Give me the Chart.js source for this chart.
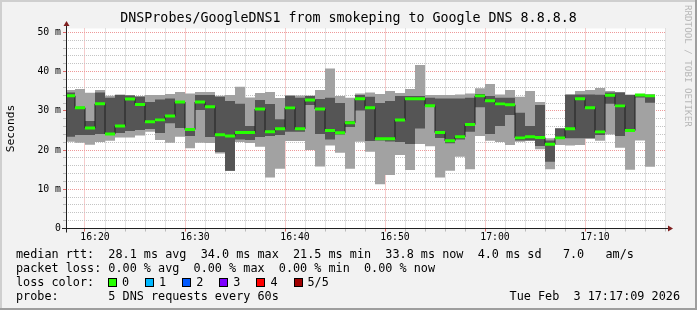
<!DOCTYPE html>
<html><head><meta charset="utf-8">
<script src="https://cdn.jsdelivr.net/npm/chart.js@4/dist/chart.umd.min.js"></script>
<style>
html,body{margin:0;padding:0;background:#f2f2f2;}
#wrap{position:relative;width:697px;height:310px;overflow:hidden;}
canvas{position:absolute;left:0;top:0;}
.t{position:absolute;font-family:"DejaVu Sans Mono",monospace;font-size:11.8px;line-height:14px;white-space:pre;color:#000;}
.box{position:absolute;width:7px;height:7px;border:1px solid #000;}
.rrd{position:absolute;left:683px;top:5px;font-family:"DejaVu Sans Mono",monospace;font-size:9.2px;line-height:10px;color:#b8b8b8;writing-mode:vertical-rl;white-space:pre;}
</style></head>
<body><div id="wrap"><canvas id="c" width="697" height="310"></canvas>
<div class="rrd">RRDTOOL / TOBI OETIKER</div>
<div class="t" style="left:16px;top:247px">median rtt:  28.1 ms avg  34.0 ms max  21.5 ms min  33.8 ms now  4.0 ms sd   7.0   am/s</div>
<div class="t" style="left:16px;top:261px">packet loss: 0.00 % avg  0.00 % max  0.00 % min  0.00 % now</div>
<div class="t" style="left:16px;top:275px">loss color:</div>
<div id="lossLegend"></div>
<div class="t" style="left:16px;top:289px">probe:       5 DNS requests every 60s</div>
<div class="t" style="right:17px;top:289px">Tue Feb  3 17:17:09 2026</div>
</div>
<script>
// ---- data (bar end times, 5 sorted pings per minute, in ms) ----
const times = ['16:18','16:19','16:20','16:21','16:22','16:23','16:24','16:25','16:26','16:27',
 '16:28','16:29','16:30','16:31','16:32','16:33','16:34','16:35','16:36','16:37',
 '16:38','16:39','16:40','16:41','16:42','16:43','16:44','16:45','16:46','16:47',
 '16:48','16:49','16:50','16:51','16:52','16:53','16:54','16:55','16:56','16:57',
 '16:58','16:59','17:00','17:01','17:02','17:03','17:04','17:05','17:06','17:07',
 '17:08','17:09','17:10','17:11','17:12','17:13','17:14','17:15','17:16'];
const pingMin = [22.12,21.86,21.35,22.04,22.37,23.19,23.19,23.70,24.67,22.55,
 21.86,23.39,20.44,21.86,21.79,19.11,14.65,22.04,21.79,20.85,
 13.00,15.24,22.30,22.30,20.00,15.80,21.15,19.32,15.24,22.12,
 19.57,11.26,13.63,18.73,14.91,21.53,20.95,13.00,14.73,18.30,
 15.09,23.57,22.37,22.04,21.28,22.12,22.35,20.18,15.09,21.28,
 21.15,21.28,22.86,22.37,23.95,20.59,14.98,22.43,15.75];
const ping2 = [23.39,23.83,23.83,24.08,23.83,24.34,24.85,25.10,25.36,24.34,
 26.81,25.61,23.57,30.20,23.32,19.49,14.73,22.68,22.55,23.32,
 23.57,23.83,24.67,24.67,31.47,24.08,22.68,23.95,25.87,30.07,
 22.30,22.43,22.17,22.04,21.53,25.53,30.96,23.06,21.71,22.68,
 24.67,30.89,24.08,26.12,28.92,22.43,22.43,21.02,17.02,22.81,
 22.99,22.99,22.99,23.83,31.80,23.57,24.67,33.38,32.06];
const median = [33.84,30.78,25.61,31.80,24.08,26.12,33.05,31.60,27.22,27.70,
 28.67,32.24,25.23,32.24,31.04,23.90,23.57,24.46,24.46,30.45,
 24.67,25.43,30.76,25.43,32.75,30.45,24.97,24.41,26.96,33.08,
 30.78,22.88,22.88,27.65,33.08,33.08,31.29,24.46,22.37,23.37,
 26.50,33.82,32.57,31.78,31.55,23.11,23.37,23.19,21.50,23.11,
 25.43,33.08,30.78,24.64,34.00,31.27,24.97,34.07,33.82];
const ping4 = [34.71,31.04,27.39,34.71,33.33,34.02,33.89,33.59,32.24,32.92,
 33.18,32.36,25.61,34.02,34.02,33.59,32.49,31.80,26.12,32.75,
 31.73,27.83,33.77,33.33,33.77,33.00,33.33,31.98,27.39,34.02,
 33.59,31.98,32.49,33.77,33.77,33.77,33.33,33.13,33.13,33.13,
 33.33,34.28,33.77,33.33,33.33,29.51,26.12,31.47,22.43,25.53,
 34.02,34.20,34.20,34.10,34.66,34.71,34.02,34.23,34.02];
const pingMax = [35.29,35.55,34.61,35.29,33.84,34.15,34.02,33.77,34.02,34.02,
 34.28,34.79,34.45,34.79,34.79,33.84,34.02,36.14,33.38,34.53,
 34.79,33.26,34.02,33.89,33.89,35.29,40.82,33.77,33.33,34.40,
 34.71,34.28,35.09,34.53,35.55,41.67,34.02,34.02,34.02,34.20,
 34.40,35.75,36.82,34.15,35.29,33.59,35.04,32.24,22.99,25.61,
 34.28,35.09,35.29,35.80,35.09,34.79,34.15,34.28,34.28];
const xTickLabels = ['16:20','16:30','16:40','16:50','17:00','17:10'];
const yTickValues = [0,10,20,30,40,50];
const yTickLabels = ['0','10 m','20 m','30 m','40 m','50 m'];
const lossLabels = ['0','1','2','3','4','5/5'];
const lossColors = ['#26ff00','#00b8ff','#0059ff','#7e00ff','#ff0000','#a00000'];

// ---- helpers ----
const toMin = s => { const p = s.split(':').map(Number); return (p[0]-16)*60 + p[1]; };
const fmt = v => { const h = 16 + Math.floor(v/60), m = Math.round(v - (h-16)*60); return h + ':' + String(m).padStart(2,'0'); };
const xs = times.map(t => toMin(t) - 0.5);
const viewMin = toMin('16:17') + 0.1, viewMax = toMin('17:17') + 0.1;
const xGrid = []; for (let v = 18; v <= 76; v += 2) xGrid.push(v);
const yGrid = []; for (let v = 0; v <= 50; v += 2) yGrid.push(v);

// loss legend
const ll = document.getElementById('lossLegend');
lossLabels.forEach((lab, i) => {
  const b = document.createElement('div'); b.className = 'box';
  b.style.left = (108 + i*37.1) + 'px'; b.style.top = '278px'; b.style.background = lossColors[i];
  ll.appendChild(b);
  const t = document.createElement('div'); t.className = 't';
  t.style.left = (122 + i*37.1) + 'px'; t.style.top = '275px'; t.textContent = lab;
  ll.appendChild(t);
});

const FONT = 'DejaVu Sans Mono';
const MINOR = '#c4c4c4', MAJOR = '#ee9999';

const framePlugin = {
  id: 'frame',
  beforeDraw(chart) {
    const c = chart.ctx, a = chart.chartArea, W = chart.width, H = chart.height;
    c.save();
    c.fillStyle = '#f2f2f2'; c.fillRect(0, 0, W, H);
    c.fillStyle = '#cfcfcf'; c.fillRect(0, 0, W, 2); c.fillRect(0, 0, 2, H);
    c.fillStyle = '#9e9e9e'; c.fillRect(0, H-2, W, 2); c.fillRect(W-2, 0, 2, H);
    c.fillStyle = '#ffffff'; c.fillRect(a.left, a.top, a.right - a.left, a.bottom - a.top);
    c.restore();
  },
  afterDraw(chart) {
    const c = chart.ctx, a = chart.chartArea;
    c.save();
    c.strokeStyle = '#202020'; c.lineWidth = 1;
    c.beginPath();
    c.moveTo(a.left - 4, a.bottom); c.lineTo(a.right + 4, a.bottom);
    c.moveTo(a.left + 0.5, a.bottom + 4); c.lineTo(a.left + 0.5, a.top - 4);
    c.stroke();
    c.fillStyle = '#7f1f1f';
    c.beginPath();
    c.moveTo(a.right + 7, a.bottom); c.lineTo(a.right + 2, a.bottom - 3); c.lineTo(a.right + 2, a.bottom + 3); c.closePath(); c.fill();
    c.beginPath();
    c.moveTo(a.left + 0.5, a.top - 7.5); c.lineTo(a.left - 2.5, a.top - 2.5); c.lineTo(a.left + 3.5, a.top - 2.5); c.closePath(); c.fill();
    c.restore();
  }
};

const barBase = { type: 'bar', grouped: false, borderWidth: 0, borderSkipped: false, inflateAmount: 0,
  barPercentage: 1, categoryPercentage: 1 };

new Chart(document.getElementById('c'), {
  type: 'bar',
  data: {
    datasets: [
      Object.assign({}, barBase, { label: 'median', order: 0, backgroundColor: lossColors[0],
        data: xs.map((x, i) => ({ x, y: [median[i] - 0.38, median[i] + 0.38] })) }),
      { type: 'line', label: 'medianLine', order: 1, stepped: 'middle', borderColor: '#202020', borderWidth: 1,
        pointRadius: 0, fill: false, data: xs.map((x, i) => ({ x, y: median[i] })) },
      Object.assign({}, barBase, { label: 'inner', order: 2, backgroundColor: '#555555',
        data: xs.map((x, i) => ({ x, y: [ping2[i], ping4[i]] })) }),
      Object.assign({}, barBase, { label: 'outer', order: 3, backgroundColor: '#a2a2a2',
        data: xs.map((x, i) => ({ x, y: [pingMin[i], pingMax[i]] })) })
    ]
  },
  options: {
    responsive: false, animation: false, devicePixelRatio: 1,
    layout: { padding: 0 },
    plugins: {
      legend: { display: false }, tooltip: { enabled: false },
      title: { display: true, text: 'DNSProbes/GoogleDNS1 from smokeping to Google DNS 8.8.8.8', color: '#000',
        font: { family: FONT, size: 13.3, weight: 'normal', lineHeight: 1.2 }, padding: { top: 10.9, bottom: 1.64 } }
    },
    scales: {
      x: {
        type: 'linear', position: 'bottom', min: viewMin, max: viewMax, offset: false,
        afterFit: s => { s.height = 81.5; },
        afterBuildTicks: s => { s.ticks = xGrid.map(v => ({ value: v })); },
        ticks: { autoSkip: false, maxRotation: 0, minRotation: 0, padding: 0.5, color: '#000',
          font: { family: FONT, size: 9.8 },
          callback: v => { const l = fmt(v); return xTickLabels.includes(l) ? l : ''; } },
        grid: { color: c => (c.tick && xTickLabels.includes(fmt(c.tick.value))) ? MAJOR : MINOR,
          tickColor: c => (c.tick && xTickLabels.includes(fmt(c.tick.value))) ? '#dd6666' : '#bbbbbb',
          tickLength: 3, lineWidth: 1, tickBorderDash: [] },
        border: { display: false, dash: [1, 1] }
      },
      y: {
        type: 'linear', position: 'left', min: 0, max: 51,
        afterFit: s => { s.width = 66; },
        afterBuildTicks: s => { s.ticks = yGrid.map(v => ({ value: v })); },
        ticks: { autoSkip: false, padding: 2, color: '#000', font: { family: FONT, size: 9.8 },
          callback: v => { const k = yTickValues.indexOf(v); return k >= 0 ? yTickLabels[k] : ''; } },
        grid: { color: c => (c.tick && yTickValues.includes(c.tick.value)) ? MAJOR : MINOR,
          tickColor: c => (c.tick && yTickValues.includes(c.tick.value)) ? '#dd6666' : '#bbbbbb',
          tickLength: 3, lineWidth: 1, tickBorderDash: [] },
        border: { display: false, dash: [1, 1] },
        title: { display: true, text: 'Seconds', color: '#000', font: { family: FONT, size: 11.3, lineHeight: 1.2 },
          padding: { top: 4, bottom: 0 } }
      },
      r: {
        type: 'linear', position: 'right', display: true,
        afterFit: s => { s.width = 31; },
        grid: { display: false, drawTicks: false }, ticks: { display: false }, border: { display: false }
      }
    }
  },
  plugins: [framePlugin]
});
</script>
</body></html>
